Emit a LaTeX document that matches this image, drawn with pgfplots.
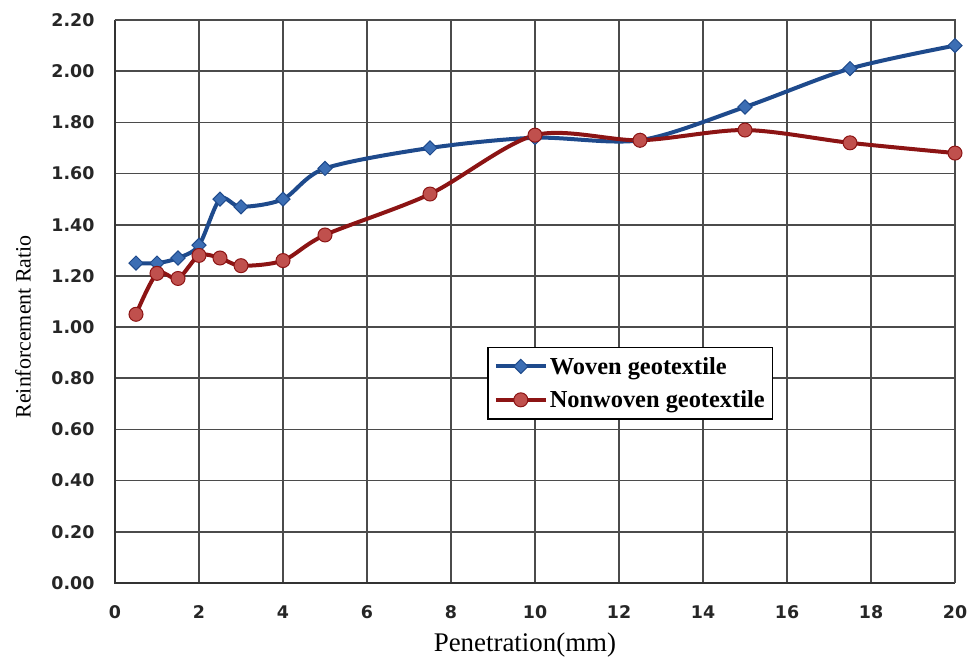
\documentclass[border=0pt]{standalone}
\usepackage{pgfplots}
\pgfplotsset{compat=1.18}
\usepackage{fontspec}
\setmainfont{Liberation Serif}
\newfontfamily\tickfont{DejaVu Sans}
\definecolor{wline}{RGB}{30,74,140}
\definecolor{wfill}{RGB}{60,110,180}
\definecolor{nline}{RGB}{140,20,20}
\definecolor{nfill}{RGB}{192,80,77}
\definecolor{gridc}{RGB}{75,75,75}
\begin{document}
\begin{tikzpicture}
\path[use as bounding box] (-115bp,-79bp) rectangle (858bp,583bp);
\begin{axis}[
  at={(0,0)}, anchor=south west,
  scale only axis, width=840bp, height=563bp,
  xmin=0, xmax=20, ymin=0, ymax=2.2,
  xtick={0,2,...,20}, ytick={0,0.2,...,2.2},
  grid=major,
  major grid style={gridc, line width=1.7bp},
  axis line style={draw=none},
  tick style={draw=none},
  /pgf/number format/assume math mode=true,
  ticklabel style={font=\tickfont\bfseries\fontsize{17.5}{19}\selectfont, text=black!85},
  yticklabel style={/pgf/number format/fixed, /pgf/number format/fixed zerofill, /pgf/number format/precision=2, anchor=east, xshift=-17bp},
  xticklabel style={anchor=base, yshift=-35bp},
  xlabel={Penetration(mm)},
  ylabel={Reinforcement Ratio},
  xlabel style={font=\fontsize{27}{30}\selectfont, at={(axis description cs:0.488,-0.11)}, anchor=center},
  ylabel style={font=\fontsize{22}{25}\selectfont, at={(axis description cs:-0.1095,0.455)}, anchor=center},
  legend style={at={(0.443,0.29)}, anchor=south west, draw=black, line width=1.4bp,
    font=\bfseries\fontsize{24.5}{27}\selectfont, inner xsep=6bp, inner ysep=8bp,
    row sep=11bp, legend cell align=left},
  legend image code/.code={\draw[#1, mark repeat=2, mark phase=2] plot coordinates {(0bp,0bp)(25bp,0bp)(50bp,0bp)};},
  clip=false,
]
\draw[black!80, line width=2.4bp] (axis cs:0,2.2) -- (axis cs:0,0) -- (axis cs:20,0);
\draw[gridc, line width=1.7bp] (axis cs:0,2.2) -- (axis cs:20,2.2) -- (axis cs:20,0);
\addplot[wline, line width=4bp, smooth, tension=0.5, mark=square*, mark size=5bp,
  mark options={rotate=45, fill=wfill, draw=wline, line width=1bp}]
  coordinates {(0.5,1.25)(1,1.25)(1.5,1.27)(2,1.32)(2.5,1.50)(3,1.47)(4,1.50)(5,1.62)(7.5,1.70)(10,1.74)(12.5,1.73)(15,1.86)(17.5,2.01)(20,2.10)};
\addlegendentry{Woven geotextile}
\addplot[nline, line width=4bp, smooth, tension=0.5, mark=*, mark size=7bp,
  mark options={fill=nfill, draw=nline, line width=1bp}]
  coordinates {(0.5,1.05)(1,1.21)(1.5,1.19)(2,1.28)(2.5,1.27)(3,1.24)(4,1.26)(5,1.36)(7.5,1.52)(10,1.75)(12.5,1.73)(15,1.77)(17.5,1.72)(20,1.68)};
\addlegendentry{Nonwoven geotextile}
\end{axis}
\end{tikzpicture}
\end{document}
